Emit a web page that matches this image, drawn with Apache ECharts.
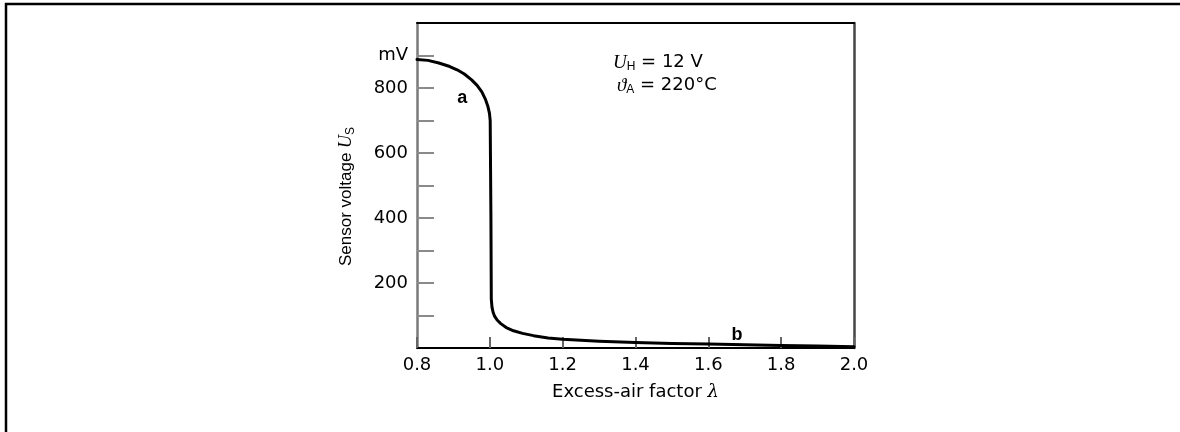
<!DOCTYPE html>
<html>
<head>
<meta charset="utf-8">
<script src="https://cdn.jsdelivr.net/npm/echarts@6/dist/echarts.min.js"></script>
<style>
html,body{margin:0;padding:0;background:#fff;}
#chart{width:1180px;height:432px;}
</style>
</head>
<body>
<div id="chart"></div>
<script>
// Excess-air factor λ
const lambda = [0.8, 0.83, 0.86, 0.89, 0.91, 0.93, 0.95, 0.965, 0.978, 0.988, 0.995, 0.999, 1.001, 1.003, 1.004, 1.006, 1.009, 1.013, 1.02, 1.03, 1.045, 1.065, 1.09, 1.12, 1.16, 1.2, 1.3, 1.4, 1.5, 1.6, 1.7, 1.8, 1.9, 2.0];
// Sensor voltage U_S (mV)
const voltage = [888, 885, 877, 866, 856, 843, 825, 808, 788, 765, 742, 722, 700, 400, 150, 125, 110, 98, 86, 75, 63, 53, 45, 38, 31, 27, 21, 17, 14, 12, 10, 8, 6, 4];
// y tick labels indexed by value/100
const yTickLabels = ['', '', '200', '', '400', '', '600', '', '800', 'mV', ''];
const xTickValues = [0.8, 1.0, 1.2, 1.4, 1.6, 1.8, 2.0];
// curve region labels [λ, mV, text]
const regionLabels = [[0.924, 770, 'a'], [1.679, 40, 'b']];
const xAxisName = 'Excess-air factor';
const yAxisName = 'Sensor voltage';

const chart = echarts.init(document.getElementById('chart'));
const tickFont = 'DejaVu Sans';
const ink = '#000';
chart.setOption({
  animation: false,
  backgroundColor: '#ffffff',
  grid: {left: 417, top: 23, width: 437, height: 325, containLabel: false},
  xAxis: [{
    type: 'value', min: 0.8, max: 2.0, interval: 0.2,
    axisLine: {show: true, onZero: false, lineStyle: {color: '#000', width: 2}},
    axisTick: {show: true, inside: true, length: 11, lineStyle: {color: '#666', width: 2}},
    splitLine: {show: false},
    axisLabel: {margin: 8, fontFamily: tickFont, fontSize: 18, color: ink,
      formatter: v => xTickValues.some(t => Math.abs(t - v) < 1e-9) ? v.toFixed(1) : ''},
    name: '{t|' + xAxisName + ' }{i|λ}',
    nameLocation: 'middle', nameGap: 35,
    nameTextStyle: {rich: {
      t: {fontFamily: tickFont, fontSize: 18, color: ink},
      i: {fontFamily: 'DejaVu Serif', fontStyle: 'italic', fontSize: 18, color: ink}
    }},
    z: 3
  }, {
    type: 'value', min: 0.8, max: 2.0, position: 'top',
    axisLine: {show: true, onZero: false, lineStyle: {color: '#000', width: 2}},
    axisTick: {show: false}, axisLabel: {show: false}, splitLine: {show: false},
    z: 3
  }],
  yAxis: [{
    type: 'value', min: 0, max: 1000, interval: 100,
    axisLine: {show: true, onZero: false, lineStyle: {color: '#7a7a7a', width: 2.5}},
    axisTick: {show: true, inside: true, length: 17, lineStyle: {color: '#8a8a8a', width: 2}},
    splitLine: {show: false},
    axisLabel: {margin: 9, fontFamily: tickFont, fontSize: 18, color: ink,
      formatter: v => yTickLabels[Math.round(v / 100)] || ''},
    name: '{t|' + yAxisName + ' }{i|U}{s|S}',
    nameLocation: 'middle', nameGap: 60, nameRotate: 90,
    nameTextStyle: {padding: [0, 22, 0, 0], rich: {
      t: {fontFamily: 'Liberation Sans', fontSize: 17, color: ink},
      i: {fontFamily: 'Liberation Serif', fontStyle: 'italic', fontSize: 18, color: ink},
      s: {fontFamily: 'Liberation Sans', fontSize: 12, color: ink, padding: [9, 0, 0, 0]}
    }},
    z: 2
  }, {
    type: 'value', min: 0, max: 1000, position: 'right',
    axisLine: {show: true, onZero: false, lineStyle: {color: '#444', width: 2.5}},
    axisTick: {show: false}, axisLabel: {show: false}, splitLine: {show: false}
  }],
  series: [{
    type: 'line',
    data: lambda.map((x, i) => [x, voltage[i]]),
    showSymbol: false, symbol: 'none',
    smooth: false,
    lineStyle: {color: '#000', width: 3, join: 'round', cap: 'round'},
    z: 5
  }, {
    type: 'scatter',
    data: regionLabels.map(d => ({value: [d[0], d[1]], name: d[2]})),
    symbolSize: 0,
    itemStyle: {opacity: 1},
    label: {show: true, position: 'inside', formatter: p => p.name,
      fontFamily: 'Liberation Sans', fontWeight: 'bold', fontSize: 18, color: '#000'},
    silent: true
  }],
  graphic: [
    {type: 'polyline', silent: true, shape: {points: [[6, 432], [6, 4], [1180, 4]]},
     style: {stroke: '#000', lineWidth: 2.5, fill: null}},
    {type: 'text', left: 613, top: 53, silent: true,
     style: {text: '{i|U}{s|H}{t| = 12 V}', rich: {
       i: {fontFamily: 'Liberation Serif', fontStyle: 'italic', fontSize: 19, fill: ink},
       s: {fontFamily: 'Liberation Sans', fontSize: 12, fill: ink, padding: [9, 0, 0, 0]},
       t: {fontFamily: tickFont, fontSize: 18, fill: ink}
     }}},
    {type: 'text', left: 617, top: 76, silent: true,
     style: {text: '{i|ϑ}{s|A}{t| = 220°C}', rich: {
       i: {fontFamily: 'Liberation Serif', fontStyle: 'italic', fontSize: 19, fill: ink},
       s: {fontFamily: 'Liberation Sans', fontSize: 12, fill: ink, padding: [9, 0, 0, 0]},
       t: {fontFamily: tickFont, fontSize: 18, fill: ink}
     }}}
  ]
});
</script>
</body>
</html>
